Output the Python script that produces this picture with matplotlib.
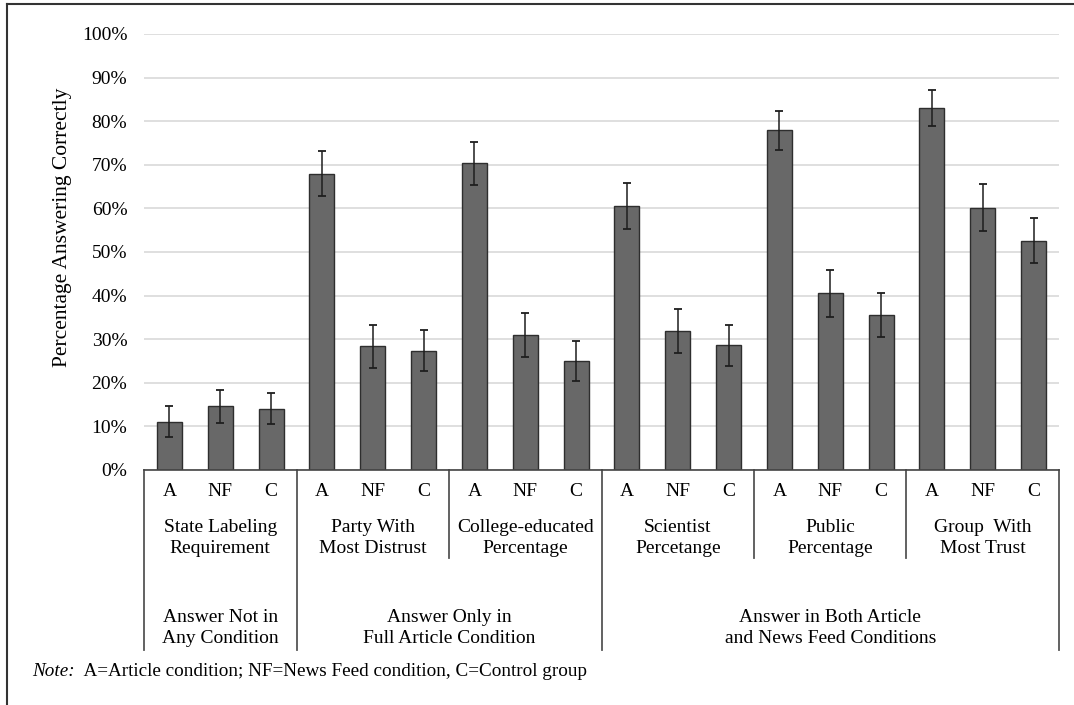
import matplotlib
matplotlib.use("Agg")
import matplotlib.pyplot as plt
from matplotlib.lines import Line2D
from matplotlib.transforms import blended_transform_factory
import numpy as np

plt.rcParams["font.family"] = ["Liberation Serif", "DejaVu Serif"]

# Data: percentage answering correctly, with error bar half-widths
conditions = ["A", "NF", "C"]
questions = [
    "State Labeling\nRequirement",
    "Party With\nMost Distrust",
    "College-educated\nPercentage",
    "Scientist\nPercetange",
    "Public\nPercentage",
    "Group  With\nMost Trust",
]
supergroups = [
    "Answer Not in\nAny Condition",
    "Answer Only in\nFull Article Condition",
    "Answer in Both Article\nand News Feed Conditions",
]
supergroup_sizes = [1, 2, 3]  # number of questions in each answer-availability group

values = [
    11.1, 14.6, 14.1,
    68.0, 28.4, 27.4,
    70.3, 31.0, 25.0,
    60.6, 31.9, 28.6,
    77.9, 40.5, 35.5,
    83.1, 60.2, 52.6,
]
errors = [
    3.5, 3.8, 3.6,
    5.1, 4.9, 4.7,
    5.0, 5.0, 4.5,
    5.3, 5.0, 4.7,
    4.4, 5.4, 5.0,
    4.1, 5.4, 5.2,
]
yticks = list(range(0, 101, 10))
note_label = "Note:"
note_text = "  A=Article condition; NF=News Feed condition, C=Control group"

W, H = 1074, 705
fig = plt.figure(figsize=(W / 100, H / 100), dpi=100)
ax = fig.add_axes([144 / W, 1 - 470 / H, (1059 - 144) / W, (470 - 34) / H])

n = len(values)
x = np.arange(n) + 0.5
ax.bar(x, values, width=0.49, color="#686868", edgecolor="#2e2e2e",
       linewidth=1.0, zorder=3)
ax.errorbar(x, values, yerr=errors, fmt="none", ecolor="#1e1e1e",
            elinewidth=1.1, capsize=2.6, capthick=1.3, zorder=4)

ax.set_xlim(0, n)
ax.set_ylim(0, 100)
ax.set_yticks(yticks)
ax.set_yticklabels([f"{t}%" for t in yticks], fontsize=14)
ax.tick_params(axis="y", length=0, pad=12)
ax.set_xticks([])
ax.grid(axis="y", color="#dcdcdc", linewidth=1.3, zorder=0)
for s in ["top", "right", "left"]:
    ax.spines[s].set_visible(False)
ax.spines["bottom"].set_color("#444444")
ax.spines["bottom"].set_linewidth(1.2)
ax.spines["bottom"].set_zorder(5)

fig.text(63 / W, 1 - 227 / H, "Percentage Answering Correctly",
         rotation=90, ha="center", va="center", fontsize=15.5)

# Category labels below the axis
tr = blended_transform_factory(ax.transData, fig.transFigure)


def fy(py):
    return 1 - py / H


for i in range(n):
    ax.text(x[i], fy(492), conditions[i % 3], transform=tr,
            ha="center", va="center", fontsize=14)

for q, label in enumerate(questions):
    ax.text(3 * q + 1.5, fy(538), label, transform=tr, ha="center",
            va="center", fontsize=14, linespacing=1.3)

# Separators: long lines between answer-availability groups, short ones between questions
long_bounds = [0]
acc = 0
for s in supergroup_sizes:
    acc += 3 * s
    long_bounds.append(acc)
short_bounds = [b for b in range(0, n + 1, 3) if b not in long_bounds]

for b in long_bounds:
    ax.add_line(Line2D([b, b], [fy(470), fy(650)], transform=tr,
                       color="#555555", linewidth=1.3, clip_on=False))
for b in short_bounds:
    ax.add_line(Line2D([b, b], [fy(470), fy(558)], transform=tr,
                       color="#555555", linewidth=1.3, clip_on=False))

for k, label in enumerate(supergroups):
    center = (long_bounds[k] + long_bounds[k + 1]) / 2
    ax.text(center, fy(628), label, transform=tr, ha="center",
            va="center", fontsize=14, linespacing=1.3)

# Note line
t1 = fig.text(32 / W, fy(672), note_label, fontstyle="italic",
              ha="left", va="center", fontsize=13.8)
fig.canvas.draw()
bb = t1.get_window_extent()
fig.text(bb.x1 / W, fy(672), note_text, ha="left", va="center", fontsize=13.8)

# Outer frame
fig.add_artist(Line2D([7 / W, 1], [fy(4), fy(4)], transform=fig.transFigure,
                      color="#333333", linewidth=1.5))
fig.add_artist(Line2D([7 / W, 7 / W], [fy(4), 0], transform=fig.transFigure,
                      color="#333333", linewidth=1.5))

fig.savefig("out.png", dpi=100)
